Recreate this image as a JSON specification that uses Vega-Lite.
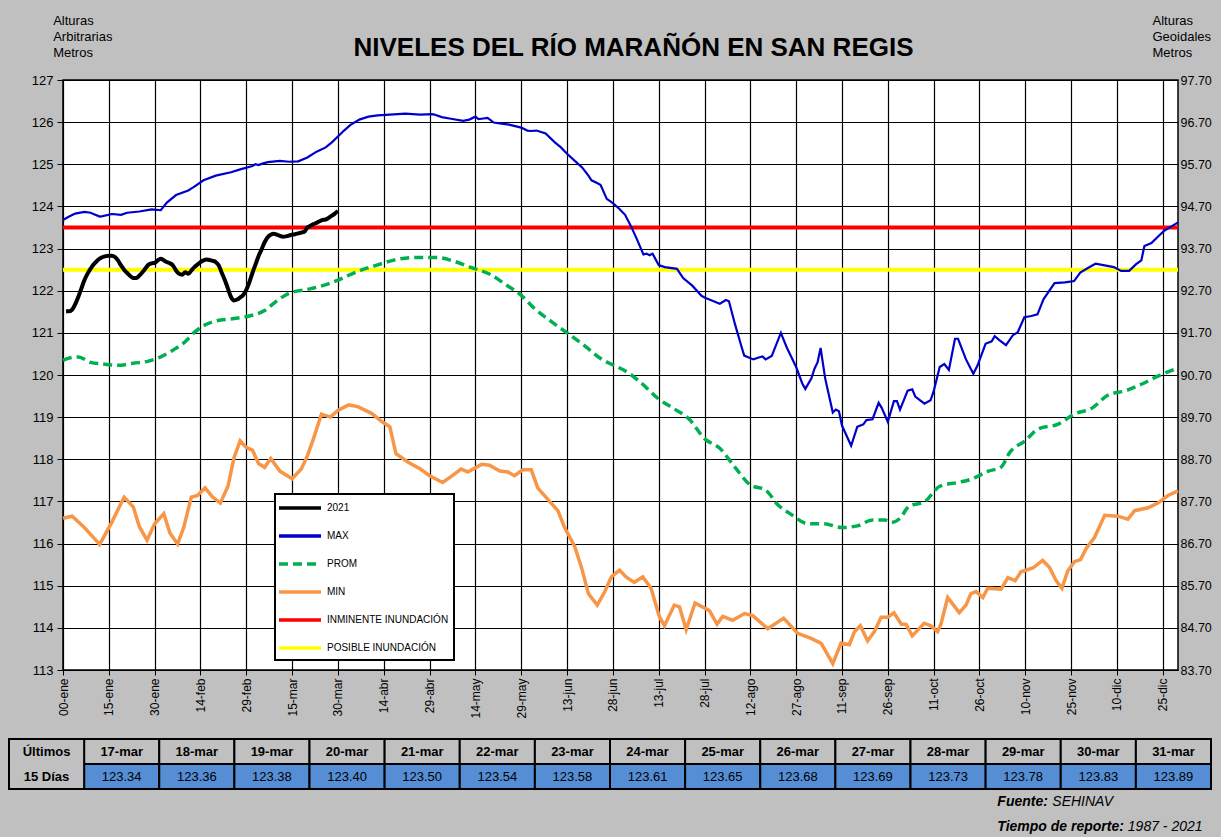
{
 "$schema": "https://vega.github.io/schema/vega-lite/v6.json",
 "background": "#C0C0C0",
 "padding": {"left": 8, "top": 13, "right": 9, "bottom": 0},
 "autosize": {"type": "pad"},
 "columns": 1,
 "bounds": "full",
 "spacing": 19,
 "config": {
  "font": "Liberation Sans",
  "view": {"stroke": null},
  "axis": {"labelColor": "black", "titleColor": "black", "domainColor": "black", "tickColor": "black", "gridColor": "black", "gridOpacity": 1, "gridWidth": 1.2, "titleFontWeight": "normal", "labelFont": "Liberation Sans", "titleFont": "Liberation Sans"},
  "legend": {"orient": "none", "legendX": 266, "legendY": 414, "fillColor": "white", "strokeColor": "black", "strokeWidth": 2, "padding": 5, "rowPadding": 12, "symbolType": "M-3,0H3", "symbolSize": 196, "symbolStrokeWidth": 3.5, "symbolOffset": 11, "labelOffset": 18, "labelFontSize": 10, "labelFont": "Liberation Sans", "labelColor": "black", "labelLimit": 0}
 },
 "datasets": {
  "d2021": [{"d":1,"v":121.51},{"d":2,"v":121.51},{"d":3,"v":121.55},{"d":4,"v":121.68},{"d":5,"v":121.85},{"d":6,"v":122.05},{"d":7,"v":122.25},{"d":8,"v":122.4},{"d":9,"v":122.52},{"d":10,"v":122.62},{"d":11,"v":122.7},{"d":12,"v":122.76},{"d":13,"v":122.8},{"d":14,"v":122.82},{"d":15,"v":122.83},{"d":16,"v":122.83},{"d":17,"v":122.8},{"d":18,"v":122.72},{"d":19,"v":122.6},{"d":20,"v":122.5},{"d":21,"v":122.42},{"d":22,"v":122.35},{"d":23,"v":122.3},{"d":24,"v":122.3},{"d":25,"v":122.36},{"d":26,"v":122.44},{"d":27,"v":122.53},{"d":28,"v":122.62},{"d":29,"v":122.65},{"d":30,"v":122.66},{"d":31,"v":122.72},{"d":32,"v":122.76},{"d":33,"v":122.72},{"d":34,"v":122.68},{"d":35,"v":122.65},{"d":36,"v":122.6},{"d":37,"v":122.48},{"d":38,"v":122.4},{"d":39,"v":122.38},{"d":40,"v":122.44},{"d":41,"v":122.4},{"d":42,"v":122.48},{"d":43,"v":122.56},{"d":44,"v":122.62},{"d":45,"v":122.68},{"d":46,"v":122.72},{"d":47,"v":122.74},{"d":48,"v":122.73},{"d":49,"v":122.71},{"d":50,"v":122.68},{"d":51,"v":122.6},{"d":52,"v":122.42},{"d":53,"v":122.25},{"d":54,"v":122.05},{"d":55,"v":121.85},{"d":56,"v":121.77},{"d":57,"v":121.79},{"d":58,"v":121.84},{"d":59,"v":121.9},{"d":60,"v":122.02},{"d":61,"v":122.2},{"d":62,"v":122.42},{"d":63,"v":122.62},{"d":64,"v":122.82},{"d":65,"v":122.98},{"d":66,"v":123.15},{"d":67,"v":123.27},{"d":68,"v":123.33},{"d":69,"v":123.35},{"d":70,"v":123.33},{"d":71,"v":123.3},{"d":72,"v":123.28},{"d":73,"v":123.29},{"d":74,"v":123.31},{"d":75,"v":123.33},{"d":76,"v":123.34},{"d":77,"v":123.36},{"d":78,"v":123.38},{"d":79,"v":123.40},{"d":80,"v":123.50},{"d":81,"v":123.54},{"d":82,"v":123.58},{"d":83,"v":123.61},{"d":84,"v":123.65},{"d":85,"v":123.68},{"d":86,"v":123.69},{"d":87,"v":123.73},{"d":88,"v":123.78},{"d":89,"v":123.83},{"d":90,"v":123.89}],
  "dmax": [{"d":0,"v":123.68},{"d":2,"v":123.76},{"d":4,"v":123.83},{"d":7,"v":123.87},{"d":9,"v":123.85},{"d":12,"v":123.76},{"d":13,"v":123.77},{"d":16,"v":123.82},{"d":19,"v":123.8},{"d":21,"v":123.85},{"d":25,"v":123.88},{"d":29,"v":123.93},{"d":32,"v":123.91},{"d":34,"v":124.09},{"d":37,"v":124.27},{"d":41,"v":124.38},{"d":43,"v":124.47},{"d":46,"v":124.62},{"d":50,"v":124.73},{"d":55,"v":124.81},{"d":58,"v":124.88},{"d":62,"v":124.96},{"d":63,"v":125.0},{"d":64,"v":124.98},{"d":65,"v":125.01},{"d":67,"v":125.05},{"d":71,"v":125.08},{"d":74,"v":125.06},{"d":77,"v":125.07},{"d":80,"v":125.16},{"d":83,"v":125.3},{"d":86,"v":125.4},{"d":88,"v":125.52},{"d":90,"v":125.66},{"d":92,"v":125.8},{"d":94,"v":125.93},{"d":97,"v":126.06},{"d":100,"v":126.13},{"d":103,"v":126.16},{"d":107,"v":126.18},{"d":112,"v":126.2},{"d":117,"v":126.18},{"d":121,"v":126.19},{"d":122,"v":126.17},{"d":124,"v":126.12},{"d":127,"v":126.08},{"d":131,"v":126.03},{"d":133,"v":126.06},{"d":135,"v":126.13},{"d":136,"v":126.07},{"d":137,"v":126.08},{"d":139,"v":126.1},{"d":141,"v":125.99},{"d":143,"v":125.97},{"d":146,"v":125.94},{"d":150,"v":125.87},{"d":152,"v":125.8},{"d":153,"v":125.79},{"d":155,"v":125.8},{"d":158,"v":125.73},{"d":161,"v":125.52},{"d":163,"v":125.4},{"d":165,"v":125.25},{"d":168,"v":125.05},{"d":170,"v":124.92},{"d":172,"v":124.73},{"d":173,"v":124.62},{"d":175,"v":124.55},{"d":176,"v":124.51},{"d":178,"v":124.18},{"d":180,"v":124.08},{"d":182,"v":123.95},{"d":184,"v":123.8},{"d":186,"v":123.52},{"d":188,"v":123.2},{"d":190,"v":122.86},{"d":191,"v":122.88},{"d":192,"v":122.84},{"d":193,"v":122.88},{"d":195,"v":122.61},{"d":197,"v":122.56},{"d":201,"v":122.52},{"d":203,"v":122.3},{"d":206,"v":122.12},{"d":209,"v":121.88},{"d":210,"v":121.84},{"d":212,"v":121.78},{"d":215,"v":121.69},{"d":217,"v":121.78},{"d":218,"v":121.75},{"d":220,"v":121.2},{"d":222,"v":120.7},{"d":223,"v":120.46},{"d":226,"v":120.37},{"d":228,"v":120.42},{"d":229,"v":120.44},{"d":230,"v":120.37},{"d":232,"v":120.45},{"d":235,"v":121.0},{"d":237,"v":120.64},{"d":240,"v":120.19},{"d":242,"v":119.8},{"d":243,"v":119.67},{"d":245,"v":119.92},{"d":246,"v":120.15},{"d":247,"v":120.3},{"d":248,"v":120.64},{"d":249.5,"v":119.92},{"d":252,"v":119.11},{"d":253,"v":119.18},{"d":254,"v":119.14},{"d":255,"v":118.8},{"d":258,"v":118.32},{"d":260,"v":118.77},{"d":262,"v":118.83},{"d":263,"v":118.93},{"d":265,"v":118.95},{"d":267,"v":119.34},{"d":268,"v":119.22},{"d":270,"v":118.89},{"d":272,"v":119.38},{"d":273,"v":119.38},{"d":274,"v":119.18},{"d":276.5,"v":119.63},{"d":278,"v":119.66},{"d":279,"v":119.49},{"d":282,"v":119.32},{"d":284,"v":119.4},{"d":285,"v":119.61},{"d":287,"v":120.19},{"d":288.5,"v":120.26},{"d":290,"v":120.12},{"d":292,"v":120.86},{"d":293,"v":120.86},{"d":295.6,"v":120.37},{"d":298,"v":120.03},{"d":299.4,"v":120.23},{"d":302,"v":120.74},{"d":304,"v":120.8},{"d":305,"v":120.92},{"d":306.5,"v":120.83},{"d":308.7,"v":120.71},{"d":311,"v":120.95},{"d":312.5,"v":121.01},{"d":314.7,"v":121.37},{"d":317,"v":121.4},{"d":319,"v":121.44},{"d":321,"v":121.8},{"d":324.6,"v":122.18},{"d":328,"v":122.2},{"d":331,"v":122.23},{"d":333,"v":122.43},{"d":335.5,"v":122.54},{"d":338,"v":122.64},{"d":341,"v":122.6},{"d":344,"v":122.56},{"d":346.4,"v":122.47},{"d":349,"v":122.47},{"d":351.3,"v":122.63},{"d":353,"v":122.72},{"d":354,"v":123.06},{"d":356.3,"v":123.13},{"d":358.4,"v":123.28},{"d":360.6,"v":123.43},{"d":363.4,"v":123.55},{"d":365,"v":123.62}],
  "dprom": [{"d":0,"v":120.35},{"d":2,"v":120.4},{"d":5,"v":120.43},{"d":9,"v":120.3},{"d":13,"v":120.26},{"d":18,"v":120.23},{"d":23,"v":120.28},{"d":28,"v":120.33},{"d":32,"v":120.43},{"d":36,"v":120.59},{"d":40,"v":120.79},{"d":43,"v":121.01},{"d":46,"v":121.17},{"d":50,"v":121.28},{"d":56,"v":121.34},{"d":61,"v":121.4},{"d":66,"v":121.53},{"d":70,"v":121.76},{"d":74,"v":121.94},{"d":80,"v":122.03},{"d":85,"v":122.12},{"d":90,"v":122.25},{"d":94,"v":122.38},{"d":98,"v":122.5},{"d":102,"v":122.59},{"d":108,"v":122.72},{"d":115,"v":122.79},{"d":122,"v":122.79},{"d":128,"v":122.7},{"d":134,"v":122.54},{"d":140,"v":122.38},{"d":145,"v":122.14},{"d":150,"v":121.89},{"d":154,"v":121.6},{"d":160,"v":121.26},{"d":165,"v":121.0},{"d":171,"v":120.68},{"d":176,"v":120.39},{"d":180,"v":120.24},{"d":184,"v":120.1},{"d":189,"v":119.83},{"d":195,"v":119.43},{"d":200,"v":119.2},{"d":205,"v":118.95},{"d":210,"v":118.49},{"d":215,"v":118.26},{"d":220,"v":117.81},{"d":225,"v":117.39},{"d":230,"v":117.27},{"d":234,"v":116.92},{"d":238,"v":116.71},{"d":244,"v":116.47},{"d":249,"v":116.47},{"d":255,"v":116.38},{"d":260,"v":116.42},{"d":265,"v":116.56},{"d":269,"v":116.56},{"d":271,"v":116.5},{"d":274,"v":116.6},{"d":277,"v":116.89},{"d":282,"v":116.99},{"d":287,"v":117.36},{"d":293,"v":117.45},{"d":297,"v":117.52},{"d":303,"v":117.72},{"d":307,"v":117.81},{"d":310,"v":118.17},{"d":315,"v":118.44},{"d":319,"v":118.71},{"d":326,"v":118.84},{"d":331,"v":119.07},{"d":337,"v":119.22},{"d":342,"v":119.52},{"d":348,"v":119.63},{"d":353,"v":119.78},{"d":358,"v":119.96},{"d":365,"v":120.17}],
  "dmin": [{"d":0,"v":116.6},{"d":3,"v":116.65},{"d":7,"v":116.38},{"d":10,"v":116.14},{"d":12,"v":115.98},{"d":16,"v":116.51},{"d":20,"v":117.1},{"d":23,"v":116.87},{"d":25,"v":116.4},{"d":27.5,"v":116.08},{"d":30,"v":116.47},{"d":33,"v":116.71},{"d":35,"v":116.25},{"d":37.5,"v":115.99},{"d":39.5,"v":116.38},{"d":42,"v":117.1},{"d":44,"v":117.14},{"d":46.5,"v":117.32},{"d":49,"v":117.1},{"d":51.5,"v":116.96},{"d":54,"v":117.36},{"d":56,"v":118.04},{"d":58,"v":118.44},{"d":60,"v":118.28},{"d":62,"v":118.22},{"d":64,"v":117.9},{"d":66,"v":117.81},{"d":68,"v":118.02},{"d":71,"v":117.72},{"d":75,"v":117.54},{"d":78,"v":117.77},{"d":80,"v":118.08},{"d":82,"v":118.49},{"d":84.6,"v":119.07},{"d":87.5,"v":119.0},{"d":90,"v":119.16},{"d":93.5,"v":119.29},{"d":96.5,"v":119.25},{"d":101,"v":119.09},{"d":104.5,"v":118.89},{"d":107,"v":118.77},{"d":109,"v":118.13},{"d":113,"v":117.93},{"d":117,"v":117.77},{"d":120,"v":117.61},{"d":124.3,"v":117.45},{"d":127,"v":117.59},{"d":130.3,"v":117.77},{"d":132.5,"v":117.7},{"d":137,"v":117.88},{"d":139.6,"v":117.86},{"d":143,"v":117.72},{"d":145.6,"v":117.7},{"d":147.8,"v":117.61},{"d":150.5,"v":117.75},{"d":153.3,"v":117.75},{"d":155.4,"v":117.32},{"d":158.7,"v":117.05},{"d":162,"v":116.78},{"d":164.2,"v":116.38},{"d":167.5,"v":115.93},{"d":169.7,"v":115.44},{"d":172,"v":114.81},{"d":174.9,"v":114.54},{"d":177.3,"v":114.85},{"d":179.5,"v":115.21},{"d":182.2,"v":115.37},{"d":184.3,"v":115.21},{"d":187,"v":115.08},{"d":189.8,"v":115.21},{"d":192.5,"v":114.94},{"d":195.2,"v":114.27},{"d":196.9,"v":114.05},{"d":200.1,"v":114.54},{"d":201.8,"v":114.5},{"d":204,"v":113.96},{"d":206.9,"v":114.59},{"d":211.6,"v":114.41},{"d":214.1,"v":114.09},{"d":216,"v":114.27},{"d":219.2,"v":114.18},{"d":223.1,"v":114.34},{"d":225.8,"v":114.29},{"d":230.7,"v":113.98},{"d":235.9,"v":114.23},{"d":240.5,"v":113.87},{"d":244.9,"v":113.75},{"d":248.2,"v":113.63},{"d":252,"v":113.15},{"d":254.7,"v":113.64},{"d":257.4,"v":113.6},{"d":259.1,"v":113.91},{"d":261,"v":114.05},{"d":263.4,"v":113.69},{"d":265.6,"v":113.91},{"d":267.8,"v":114.25},{"d":270,"v":114.25},{"d":272,"v":114.36},{"d":274.4,"v":114.09},{"d":276,"v":114.08},{"d":278,"v":113.81},{"d":281.9,"v":114.11},{"d":284.1,"v":114.05},{"d":286.3,"v":113.91},{"d":287.4,"v":114.09},{"d":289.6,"v":114.72},{"d":293.4,"v":114.36},{"d":295.6,"v":114.54},{"d":297.2,"v":114.81},{"d":298.9,"v":114.86},{"d":301.1,"v":114.72},{"d":302.7,"v":114.94},{"d":307.1,"v":114.92},{"d":309.3,"v":115.19},{"d":311.7,"v":115.12},{"d":313.6,"v":115.33},{"d":317.5,"v":115.42},{"d":320.7,"v":115.6},{"d":322.9,"v":115.44},{"d":325.1,"v":115.12},{"d":327,"v":114.94},{"d":328.9,"v":115.35},{"d":331.1,"v":115.57},{"d":333.1,"v":115.62},{"d":335,"v":115.89},{"d":337.7,"v":116.15},{"d":341,"v":116.67},{"d":345.3,"v":116.65},{"d":348.6,"v":116.58},{"d":350.8,"v":116.78},{"d":355.2,"v":116.85},{"d":358.4,"v":116.96},{"d":361.7,"v":117.14},{"d":365,"v":117.25}],
  "tabla": [{"fecha":"17-mar","nivel":123.34},{"fecha":"18-mar","nivel":123.36},{"fecha":"19-mar","nivel":123.38},{"fecha":"20-mar","nivel":123.40},{"fecha":"21-mar","nivel":123.50},{"fecha":"22-mar","nivel":123.54},{"fecha":"23-mar","nivel":123.58},{"fecha":"24-mar","nivel":123.61},{"fecha":"25-mar","nivel":123.65},{"fecha":"26-mar","nivel":123.68},{"fecha":"27-mar","nivel":123.69},{"fecha":"28-mar","nivel":123.73},{"fecha":"29-mar","nivel":123.78},{"fecha":"30-mar","nivel":123.83},{"fecha":"31-mar","nivel":123.89}]
 },
 "concat": [
  {
   "spacing": 0,
   "hconcat": [
    {
     "width": 1,
     "height": 1,
     "data": {"values": []},
     "mark": {"type": "point", "opacity": 0}
    },
    {
     "width": 1115,
     "height": 590,
     "view": {"fill": "white", "stroke": "black", "strokeWidth": 1.5},
     "resolve": {"scale": {"y": "independent", "x": "independent"}, "axis": {"y": "independent", "x": "independent"}},
     "layer": [
      {
       "layer": [
        {
         "data": {"values": [{}]},
         "mark": {"type": "rule", "strokeWidth": 4},
         "encoding": {
          "y": {"datum": 123.5, "type": "quantitative", "scale": {"domain": [113, 127], "nice": false, "zero": false}, "axis": {"values": [113,114,115,116,117,118,119,120,121,122,123,124,125,126,127], "format": "d", "grid": true, "tickSize": 6, "labelPadding": 4, "labelFontSize": 13, "title": ["Alturas", "Arbitrarias", "Metros"], "titleAngle": 0, "titleX": -10.3, "titleY": -66, "titleAlign": "left", "titleBaseline": "top", "titleFontSize": 13, "titleLineHeight": 16}},
          "color": {"datum": "INMINENTE INUNDACIÓN", "type": "nominal", "scale": {"domain": ["2021", "MAX", "PROM", "MIN", "INMINENTE INUNDACIÓN", "POSIBLE INUNDACIÓN"], "range": ["#000000", "#0000CC", "#00B050", "#F79646", "#FF0000", "#FFFF00"]}, "legend": {"title": null}}
         }
        },
        {
         "data": {"values": [{}]},
         "mark": {"type": "rule", "strokeWidth": 4},
         "encoding": {
          "y": {"datum": 122.5, "type": "quantitative", "scale": {"domain": [113, 127], "nice": false, "zero": false}, "axis": {"values": [113,114,115,116,117,118,119,120,121,122,123,124,125,126,127], "format": "d", "grid": true, "tickSize": 6, "labelPadding": 4, "labelFontSize": 13, "title": ["Alturas", "Arbitrarias", "Metros"], "titleAngle": 0, "titleX": -10.3, "titleY": -66, "titleAlign": "left", "titleBaseline": "top", "titleFontSize": 13, "titleLineHeight": 16}},
          "color": {"datum": "POSIBLE INUNDACIÓN", "type": "nominal", "scale": {"domain": ["2021", "MAX", "PROM", "MIN", "INMINENTE INUNDACIÓN", "POSIBLE INUNDACIÓN"], "range": ["#000000", "#0000CC", "#00B050", "#F79646", "#FF0000", "#FFFF00"]}, "legend": {"title": null}}
         }
        },
        {
         "data": {"name": "dmin"},
         "mark": {"type": "line", "strokeWidth": 3.5},
         "encoding": {
          "x": {"field": "d", "type": "quantitative", "scale": {"domain": [0, 365], "nice": false, "zero": false}, "axis": {"values": [0,15,30,45,60,75,90,105,120,135,150,165,180,195,210,225,240,255,270,285,300,315,330,345,360], "labelExpr": "['00-ene','15-ene','30-ene','14-feb','29-feb','15-mar','30-mar','14-abr','29-abr','14-may','29-may','13-jun','28-jun','13-jul','28-jul','12-ago','27-ago','11-sep','26-sep','11-oct','26-oct','10-nov','25-nov','10-dic','25-dic'][round(datum.value/15)]", "labelAngle": 270, "labelAlign": "right", "labelBaseline": "middle", "labelFontSize": 12, "labelPadding": 3, "tickSize": 5, "grid": true, "labelOverlap": false, "labelFlush": false, "title": " ", "titleX": -52, "titleY": 2, "titleAlign": "left", "titleBaseline": "top", "titleFontSize": 2}},
          "y": {"field": "v", "type": "quantitative", "scale": {"domain": [113, 127], "nice": false, "zero": false}, "axis": {"values": [113,114,115,116,117,118,119,120,121,122,123,124,125,126,127], "format": "d", "grid": true, "tickSize": 6, "labelPadding": 4, "labelFontSize": 13, "title": ["Alturas", "Arbitrarias", "Metros"], "titleAngle": 0, "titleX": -10.3, "titleY": -66, "titleAlign": "left", "titleBaseline": "top", "titleFontSize": 13, "titleLineHeight": 16}},
          "color": {"datum": "MIN", "type": "nominal", "scale": {"domain": ["2021", "MAX", "PROM", "MIN", "INMINENTE INUNDACIÓN", "POSIBLE INUNDACIÓN"], "range": ["#000000", "#0000CC", "#00B050", "#F79646", "#FF0000", "#FFFF00"]}, "legend": {"title": null}}
         }
        },
        {
         "data": {"name": "dprom"},
         "mark": {"type": "line", "strokeWidth": 3.5, "interpolate": "monotone"},
         "encoding": {
          "x": {"field": "d", "type": "quantitative", "scale": {"domain": [0, 365], "nice": false, "zero": false}, "axis": {"values": [0,15,30,45,60,75,90,105,120,135,150,165,180,195,210,225,240,255,270,285,300,315,330,345,360], "labelExpr": "['00-ene','15-ene','30-ene','14-feb','29-feb','15-mar','30-mar','14-abr','29-abr','14-may','29-may','13-jun','28-jun','13-jul','28-jul','12-ago','27-ago','11-sep','26-sep','11-oct','26-oct','10-nov','25-nov','10-dic','25-dic'][round(datum.value/15)]", "labelAngle": 270, "labelAlign": "right", "labelBaseline": "middle", "labelFontSize": 12, "labelPadding": 3, "tickSize": 5, "grid": true, "labelOverlap": false, "labelFlush": false, "title": " ", "titleX": -52, "titleY": 2, "titleAlign": "left", "titleBaseline": "top", "titleFontSize": 2}},
          "y": {"field": "v", "type": "quantitative", "scale": {"domain": [113, 127], "nice": false, "zero": false}, "axis": {"values": [113,114,115,116,117,118,119,120,121,122,123,124,125,126,127], "format": "d", "grid": true, "tickSize": 6, "labelPadding": 4, "labelFontSize": 13, "title": ["Alturas", "Arbitrarias", "Metros"], "titleAngle": 0, "titleX": -10.3, "titleY": -66, "titleAlign": "left", "titleBaseline": "top", "titleFontSize": 13, "titleLineHeight": 16}},
          "color": {"datum": "PROM", "type": "nominal", "scale": {"domain": ["2021", "MAX", "PROM", "MIN", "INMINENTE INUNDACIÓN", "POSIBLE INUNDACIÓN"], "range": ["#000000", "#0000CC", "#00B050", "#F79646", "#FF0000", "#FFFF00"]}, "legend": {"title": null}},
          "strokeDash": {"datum": "PROM", "type": "nominal", "scale": {"domain": ["2021", "MAX", "PROM", "MIN", "INMINENTE INUNDACIÓN", "POSIBLE INUNDACIÓN"], "range": [[1, 0], [1, 0], [9, 5], [1, 0], [1, 0], [1, 0]]}, "legend": {"title": null}}
         }
        },
        {
         "data": {"name": "dmax"},
         "mark": {"type": "line", "strokeWidth": 2.2},
         "encoding": {
          "x": {"field": "d", "type": "quantitative", "scale": {"domain": [0, 365], "nice": false, "zero": false}, "axis": {"values": [0,15,30,45,60,75,90,105,120,135,150,165,180,195,210,225,240,255,270,285,300,315,330,345,360], "labelExpr": "['00-ene','15-ene','30-ene','14-feb','29-feb','15-mar','30-mar','14-abr','29-abr','14-may','29-may','13-jun','28-jun','13-jul','28-jul','12-ago','27-ago','11-sep','26-sep','11-oct','26-oct','10-nov','25-nov','10-dic','25-dic'][round(datum.value/15)]", "labelAngle": 270, "labelAlign": "right", "labelBaseline": "middle", "labelFontSize": 12, "labelPadding": 3, "tickSize": 5, "grid": true, "labelOverlap": false, "labelFlush": false, "title": " ", "titleX": -52, "titleY": 2, "titleAlign": "left", "titleBaseline": "top", "titleFontSize": 2}},
          "y": {"field": "v", "type": "quantitative", "scale": {"domain": [113, 127], "nice": false, "zero": false}, "axis": {"values": [113,114,115,116,117,118,119,120,121,122,123,124,125,126,127], "format": "d", "grid": true, "tickSize": 6, "labelPadding": 4, "labelFontSize": 13, "title": ["Alturas", "Arbitrarias", "Metros"], "titleAngle": 0, "titleX": -10.3, "titleY": -66, "titleAlign": "left", "titleBaseline": "top", "titleFontSize": 13, "titleLineHeight": 16}},
          "color": {"datum": "MAX", "type": "nominal", "scale": {"domain": ["2021", "MAX", "PROM", "MIN", "INMINENTE INUNDACIÓN", "POSIBLE INUNDACIÓN"], "range": ["#000000", "#0000CC", "#00B050", "#F79646", "#FF0000", "#FFFF00"]}, "legend": {"title": null}}
         }
        },
        {
         "data": {"name": "d2021"},
         "mark": {"type": "line", "strokeWidth": 4, "interpolate": "monotone"},
         "encoding": {
          "x": {"field": "d", "type": "quantitative", "scale": {"domain": [0, 365], "nice": false, "zero": false}, "axis": {"values": [0,15,30,45,60,75,90,105,120,135,150,165,180,195,210,225,240,255,270,285,300,315,330,345,360], "labelExpr": "['00-ene','15-ene','30-ene','14-feb','29-feb','15-mar','30-mar','14-abr','29-abr','14-may','29-may','13-jun','28-jun','13-jul','28-jul','12-ago','27-ago','11-sep','26-sep','11-oct','26-oct','10-nov','25-nov','10-dic','25-dic'][round(datum.value/15)]", "labelAngle": 270, "labelAlign": "right", "labelBaseline": "middle", "labelFontSize": 12, "labelPadding": 3, "tickSize": 5, "grid": true, "labelOverlap": false, "labelFlush": false, "title": " ", "titleX": -52, "titleY": 2, "titleAlign": "left", "titleBaseline": "top", "titleFontSize": 2}},
          "y": {"field": "v", "type": "quantitative", "scale": {"domain": [113, 127], "nice": false, "zero": false}, "axis": {"values": [113,114,115,116,117,118,119,120,121,122,123,124,125,126,127], "format": "d", "grid": true, "tickSize": 6, "labelPadding": 4, "labelFontSize": 13, "title": ["Alturas", "Arbitrarias", "Metros"], "titleAngle": 0, "titleX": -10.3, "titleY": -66, "titleAlign": "left", "titleBaseline": "top", "titleFontSize": 13, "titleLineHeight": 16}},
          "color": {"datum": "2021", "type": "nominal", "scale": {"domain": ["2021", "MAX", "PROM", "MIN", "INMINENTE INUNDACIÓN", "POSIBLE INUNDACIÓN"], "range": ["#000000", "#0000CC", "#00B050", "#F79646", "#FF0000", "#FFFF00"]}, "legend": {"title": null}}
         }
        }
       ]
      },
      {
       "data": {"values": [{"g": 83.7}, {"g": 97.7}]},
       "mark": {"type": "point", "opacity": 0},
       "encoding": {
        "x": {"field": "g", "type": "quantitative", "scale": {"domain": [83.7, 97.7], "nice": false, "zero": false}, "axis": {"orient": "top", "labels": false, "ticks": false, "domain": false, "grid": false, "title": "NIVELES DEL RÍO MARAÑÓN EN SAN REGIS", "titleX": 570, "titleY": -25, "titleAlign": "center", "titleBaseline": "alphabetic", "titleFontSize": 26, "titleFontWeight": "bold", "titleAngle": 0}},
        "y": {"field": "g", "type": "quantitative", "scale": {"domain": [83.7, 97.7], "nice": false, "zero": false}, "axis": {"orient": "right", "values": [83.7,84.7,85.7,86.7,87.7,88.7,89.7,90.7,91.7,92.7,93.7,94.7,95.7,96.7,97.7], "format": ".2f", "grid": false, "domain": false, "ticks": false, "labelPadding": 2, "labelFontSize": 12.5, "title": ["Alturas", "Geoidales", "Metros"], "titleAngle": 0, "titleX": -26, "titleY": -66, "titleAlign": "left", "titleBaseline": "top", "titleFontSize": 13, "titleLineHeight": 16}}
       }
      }
     ]
    }
   ]
  },
  {
   "width": 1202,
   "height": 100,
   "resolve": {"scale": {"y": "independent"}},
   "layer": [
    {
     "data": {"name": "tabla"},
     "mark": {"type": "rect", "fill": "#C0C0C0", "stroke": "black", "strokeWidth": 2},
     "encoding": {
      "x": {"field": "fecha", "type": "nominal", "scale": {"domain": ["Últimos","17-mar","18-mar","19-mar","20-mar","21-mar","22-mar","23-mar","24-mar","25-mar","26-mar","27-mar","28-mar","29-mar","30-mar","31-mar"], "paddingInner": 0, "paddingOuter": 0}, "axis": null},
      "y": {"datum": "h", "type": "nominal", "scale": {"domain": ["h", "v", "f1", "f2"], "paddingInner": 0, "paddingOuter": 0}, "axis": null}
     }
    },
    {
     "data": {"name": "tabla"},
     "mark": {"type": "rect", "fill": "#558ED5", "stroke": "black", "strokeWidth": 2},
     "encoding": {
      "x": {"field": "fecha", "type": "nominal", "scale": {"domain": ["Últimos","17-mar","18-mar","19-mar","20-mar","21-mar","22-mar","23-mar","24-mar","25-mar","26-mar","27-mar","28-mar","29-mar","30-mar","31-mar"], "paddingInner": 0, "paddingOuter": 0}, "axis": null},
      "y": {"datum": "v", "type": "nominal", "scale": {"domain": ["h", "v", "f1", "f2"], "paddingInner": 0, "paddingOuter": 0}, "axis": null}
     }
    },
    {
     "data": {"values": [{}]},
     "mark": {"type": "rect", "fill": "#C0C0C0", "stroke": "black", "strokeWidth": 2},
     "encoding": {
      "x": {"datum": "Últimos", "type": "nominal", "scale": {"domain": ["Últimos","17-mar","18-mar","19-mar","20-mar","21-mar","22-mar","23-mar","24-mar","25-mar","26-mar","27-mar","28-mar","29-mar","30-mar","31-mar"], "paddingInner": 0, "paddingOuter": 0}, "axis": null},
      "y": {"datum": "hv", "type": "nominal", "scale": {"domain": ["hv", "pie"], "paddingInner": 0, "paddingOuter": 0}, "axis": null}
     }
    },
    {
     "data": {"name": "tabla"},
     "mark": {"type": "text", "font": "Liberation Sans", "fontSize": 13, "fontWeight": "bold", "color": "black"},
     "encoding": {
      "x": {"field": "fecha", "type": "nominal", "scale": {"domain": ["Últimos","17-mar","18-mar","19-mar","20-mar","21-mar","22-mar","23-mar","24-mar","25-mar","26-mar","27-mar","28-mar","29-mar","30-mar","31-mar"], "paddingInner": 0, "paddingOuter": 0}, "axis": null},
      "y": {"datum": "h", "type": "nominal", "scale": {"domain": ["h", "v", "f1", "f2"], "paddingInner": 0, "paddingOuter": 0}, "axis": null},
      "text": {"field": "fecha", "type": "nominal"}
     }
    },
    {
     "data": {"name": "tabla"},
     "mark": {"type": "text", "font": "Liberation Sans", "fontSize": 13, "color": "black"},
     "encoding": {
      "x": {"field": "fecha", "type": "nominal", "scale": {"domain": ["Últimos","17-mar","18-mar","19-mar","20-mar","21-mar","22-mar","23-mar","24-mar","25-mar","26-mar","27-mar","28-mar","29-mar","30-mar","31-mar"], "paddingInner": 0, "paddingOuter": 0}, "axis": null},
      "y": {"datum": "v", "type": "nominal", "scale": {"domain": ["h", "v", "f1", "f2"], "paddingInner": 0, "paddingOuter": 0}, "axis": null},
      "text": {"field": "nivel", "type": "quantitative", "format": ".2f"}
     }
    },
    {
     "data": {"values": [{}]},
     "mark": {"type": "text", "font": "Liberation Sans", "fontSize": 13, "fontWeight": "bold", "color": "black"},
     "encoding": {
      "x": {"datum": "Últimos", "type": "nominal", "scale": {"domain": ["Últimos","17-mar","18-mar","19-mar","20-mar","21-mar","22-mar","23-mar","24-mar","25-mar","26-mar","27-mar","28-mar","29-mar","30-mar","31-mar"], "paddingInner": 0, "paddingOuter": 0}, "axis": null},
      "y": {"datum": "h", "type": "nominal", "scale": {"domain": ["h", "v", "f1", "f2"], "paddingInner": 0, "paddingOuter": 0}, "axis": null},
      "text": {"value": "Últimos"}
     }
    },
    {
     "data": {"values": [{}]},
     "mark": {"type": "text", "font": "Liberation Sans", "fontSize": 13, "fontWeight": "bold", "color": "black"},
     "encoding": {
      "x": {"datum": "Últimos", "type": "nominal", "scale": {"domain": ["Últimos","17-mar","18-mar","19-mar","20-mar","21-mar","22-mar","23-mar","24-mar","25-mar","26-mar","27-mar","28-mar","29-mar","30-mar","31-mar"], "paddingInner": 0, "paddingOuter": 0}, "axis": null},
      "y": {"datum": "v", "type": "nominal", "scale": {"domain": ["h", "v", "f1", "f2"], "paddingInner": 0, "paddingOuter": 0}, "axis": null},
      "text": {"value": "15 Días"}
     }
    },
    {
     "data": {"values": [{}]},
     "mark": {"type": "text", "font": "Liberation Sans", "fontSize": 14, "fontWeight": "bold", "fontStyle": "italic", "align": "left", "color": "black"},
     "encoding": {
      "x": {"datum": "29-mar", "type": "nominal", "bandPosition": 0.156, "scale": {"domain": ["Últimos","17-mar","18-mar","19-mar","20-mar","21-mar","22-mar","23-mar","24-mar","25-mar","26-mar","27-mar","28-mar","29-mar","30-mar","31-mar"], "paddingInner": 0, "paddingOuter": 0}, "axis": null},
      "y": {"datum": "f1", "type": "nominal", "scale": {"domain": ["h", "v", "f1", "f2"], "paddingInner": 0, "paddingOuter": 0}, "axis": null},
      "text": {"value": "Fuente:"}
     }
    },
    {
     "data": {"values": [{}]},
     "mark": {"type": "text", "font": "Liberation Sans", "fontSize": 14, "fontStyle": "italic", "align": "left", "color": "black"},
     "encoding": {
      "x": {"datum": "29-mar", "type": "nominal", "bandPosition": 0.888, "scale": {"domain": ["Últimos","17-mar","18-mar","19-mar","20-mar","21-mar","22-mar","23-mar","24-mar","25-mar","26-mar","27-mar","28-mar","29-mar","30-mar","31-mar"], "paddingInner": 0, "paddingOuter": 0}, "axis": null},
      "y": {"datum": "f1", "type": "nominal", "scale": {"domain": ["h", "v", "f1", "f2"], "paddingInner": 0, "paddingOuter": 0}, "axis": null},
      "text": {"value": "SEHINAV"}
     }
    },
    {
     "data": {"values": [{}]},
     "mark": {"type": "text", "font": "Liberation Sans", "fontSize": 14, "fontWeight": "bold", "fontStyle": "italic", "align": "left", "color": "black"},
     "encoding": {
      "x": {"datum": "29-mar", "type": "nominal", "bandPosition": 0.156, "scale": {"domain": ["Últimos","17-mar","18-mar","19-mar","20-mar","21-mar","22-mar","23-mar","24-mar","25-mar","26-mar","27-mar","28-mar","29-mar","30-mar","31-mar"], "paddingInner": 0, "paddingOuter": 0}, "axis": null},
      "y": {"datum": "f2", "type": "nominal", "scale": {"domain": ["h", "v", "f1", "f2"], "paddingInner": 0, "paddingOuter": 0}, "axis": null},
      "text": {"value": "Tiempo de reporte:"}
     }
    },
    {
     "data": {"values": [{}]},
     "mark": {"type": "text", "font": "Liberation Sans", "fontSize": 14, "fontStyle": "italic", "align": "left", "color": "black"},
     "encoding": {
      "x": {"datum": "30-mar", "type": "nominal", "bandPosition": 0.893, "scale": {"domain": ["Últimos","17-mar","18-mar","19-mar","20-mar","21-mar","22-mar","23-mar","24-mar","25-mar","26-mar","27-mar","28-mar","29-mar","30-mar","31-mar"], "paddingInner": 0, "paddingOuter": 0}, "axis": null},
      "y": {"datum": "f2", "type": "nominal", "scale": {"domain": ["h", "v", "f1", "f2"], "paddingInner": 0, "paddingOuter": 0}, "axis": null},
      "text": {"value": "1987 - 2021"}
     }
    }
   ]
  }
 ]
}
